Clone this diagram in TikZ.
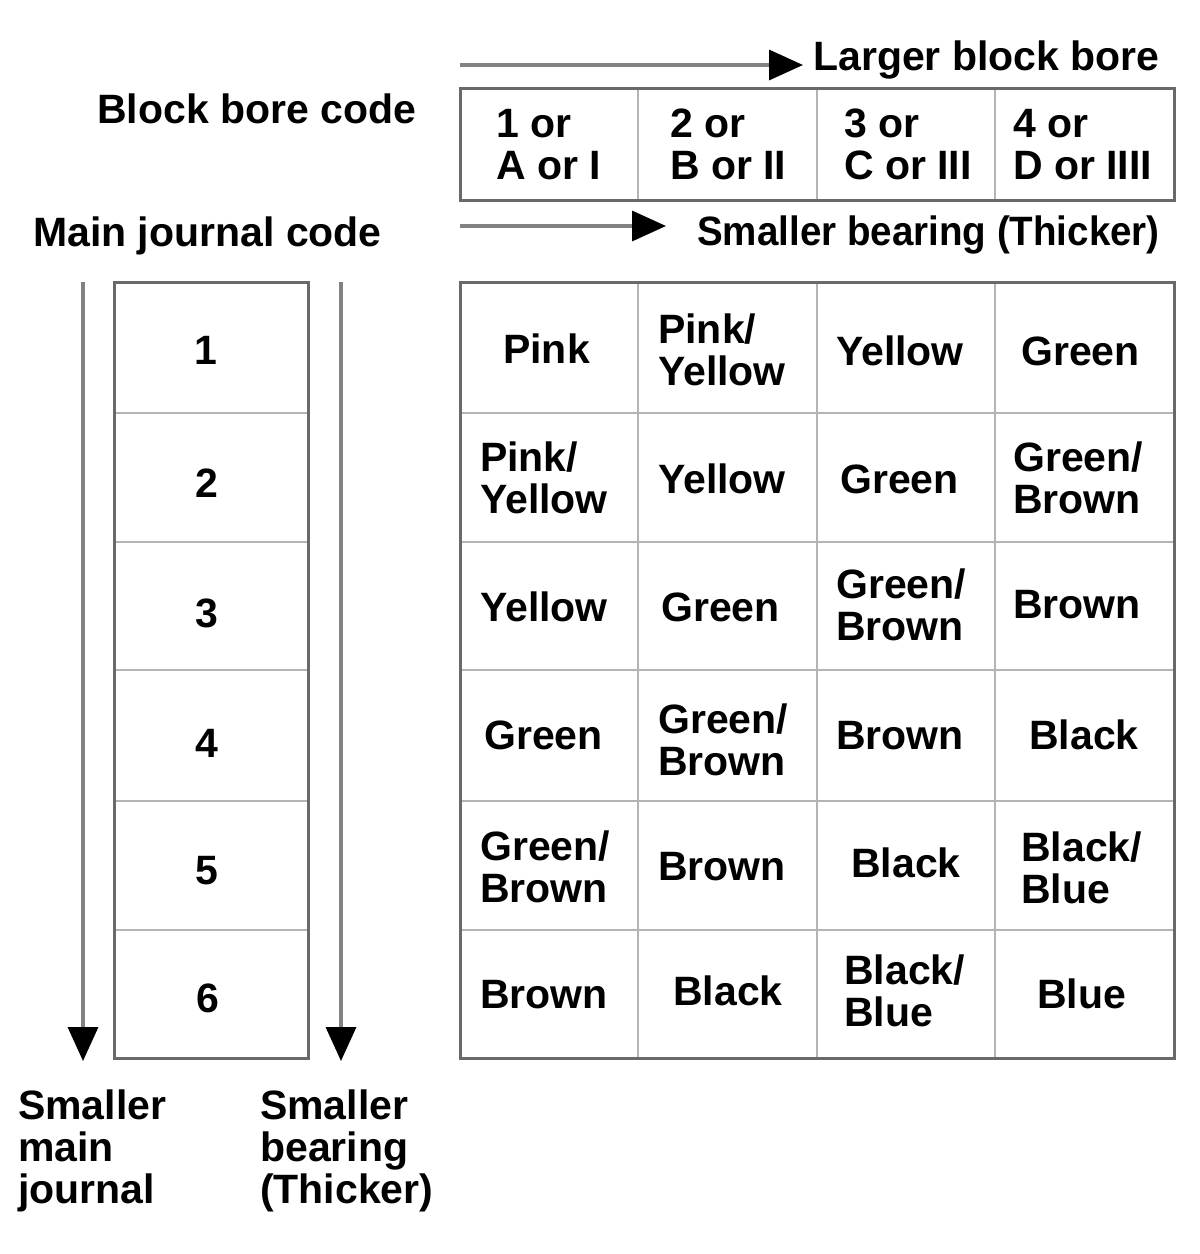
\documentclass[tikz,border=0pt]{standalone}
\usepackage{fontspec}
\usepackage{graphicx}
\setmainfont{Liberation Sans}
\usetikzlibrary{arrows.meta}
\definecolor{framecol}{RGB}{105,105,105}
\definecolor{gridcol}{RGB}{180,180,180}
\definecolor{shaftcol}{RGB}{130,130,130}
\begin{document}
\begin{tikzpicture}[x=1pt,y=-1pt,
  every node/.style={font=\fontsize{41}{42}\selectfont\bfseries, inner sep=0pt, align=left},
  lbl/.style={anchor=base west},
  num/.style={anchor=base},
  frameline/.style={draw=framecol, line width=3pt},
  gridline/.style={draw=gridcol, line width=2pt},
  arr/.style={draw=shaftcol, line width=3.5pt, -{Triangle[length=34pt,width=30pt,color=black]}}]
\useasboundingbox (0,0) rectangle (1200,1254);
\fill[white] (0,0) rectangle (1200,1254);

% header table
\foreach \x in {638,817,995} \draw[gridline] (\x,88) -- (\x,200);
\draw[frameline] (460,88) rectangle (1174,200);

% main table and left column
\foreach \y in {413,542,670,801,930} {
  \draw[gridline] (460,\y) -- (1174,\y);
  \draw[gridline] (114,\y) -- (308,\y);
}
\foreach \x in {638,817,995} \draw[gridline] (\x,282) -- (\x,1058);
\draw[frameline] (460,282) rectangle (1174,1058);
\draw[frameline] (114,282) rectangle (308,1058);

% arrows
\coordinate (a1s) at (460,65);  \coordinate (a1e) at (803,65);
\coordinate (a2s) at (460,226); \coordinate (a2e) at (666,226);
\coordinate (a3s) at (83,282);  \coordinate (a3e) at (83,1061);
\coordinate (a4s) at (341,282); \coordinate (a4e) at (341,1061);
\draw[arr] (a1s) -- (a1e);
\draw[arr] (a2s) -- (a2e);
\draw[arr] (a3s) -- (a3e);
\draw[arr] (a4s) -- (a4e);

% titles
\node[lbl] (tlarger) at (813,70) {Larger block bore};
\node[lbl] (tblock) at (97,123) {Block bore code};
\node[lbl] (tmain) at (33,246) {Main journal code};
\node[lbl] (tsmaller) at (697,245) {\scalebox{0.94}[1]{Smaller bearing (Thicker)}};
\node[lbl] (bl1) at (18,1203) {Smaller\\main\\journal};
\node[lbl] (bl2) at (260,1203) {Smaller\\bearing\\(Thicker)};

% header cells
\node[lbl] (h1) at (496,179) {1 or\\A or I};
\node[lbl] (h2) at (670,179) {2 or\\B or II};
\node[lbl] (h3) at (844,179) {3 or\\C or III};
\node[lbl] (h4) at (1013,179) {4 or\\D or IIII};

% journal codes
\node[num] (j1) at (206,364) {1};
\node[num] (j2) at (207,497) {2};
\node[num] (j3) at (207,627) {3};
\node[num] (j4) at (207,757) {4};
\node[num] (j5) at (207,884) {5};
\node[num] (j6) at (208,1012) {6};

% row 1
\node[lbl] (c11) at (503,363) {Pink};
\node[lbl] (c12) at (658,385) {Pink/\\Yellow};
\node[lbl] (c13) at (836,365) {Yellow};
\node[lbl] (c14) at (1021,365) {Green};
% row 2
\node[lbl] (c21) at (480,513) {Pink/\\Yellow};
\node[lbl] (c22) at (658,493) {Yellow};
\node[lbl] (c23) at (840,493) {Green};
\node[lbl] (c24) at (1013,513) {Green/\\Brown};
% row 3
\node[lbl] (c31) at (480,621) {Yellow};
\node[lbl] (c32) at (661,621) {Green};
\node[lbl] (c33) at (836,640) {Green/\\Brown};
\node[lbl] (c34) at (1013,618) {Brown};
% row 4
\node[lbl] (c41) at (484,749) {Green};
\node[lbl] (c42) at (658,775) {Green/\\Brown};
\node[lbl] (c43) at (836,749) {Brown};
\node[lbl] (c44) at (1029,749) {Black};
% row 5
\node[lbl] (c51) at (480,902) {Green/\\Brown};
\node[lbl] (c52) at (658,880) {Brown};
\node[lbl] (c53) at (851,877) {Black};
\node[lbl] (c54) at (1021,903) {Black/\\Blue};
% row 6
\node[lbl] (c61) at (480,1008) {Brown};
\node[lbl] (c62) at (673,1005) {Black};
\node[lbl] (c63) at (844,1026) {Black/\\Blue};
\node[lbl] (c64) at (1037,1008) {Blue};
\end{tikzpicture}
\end{document}
